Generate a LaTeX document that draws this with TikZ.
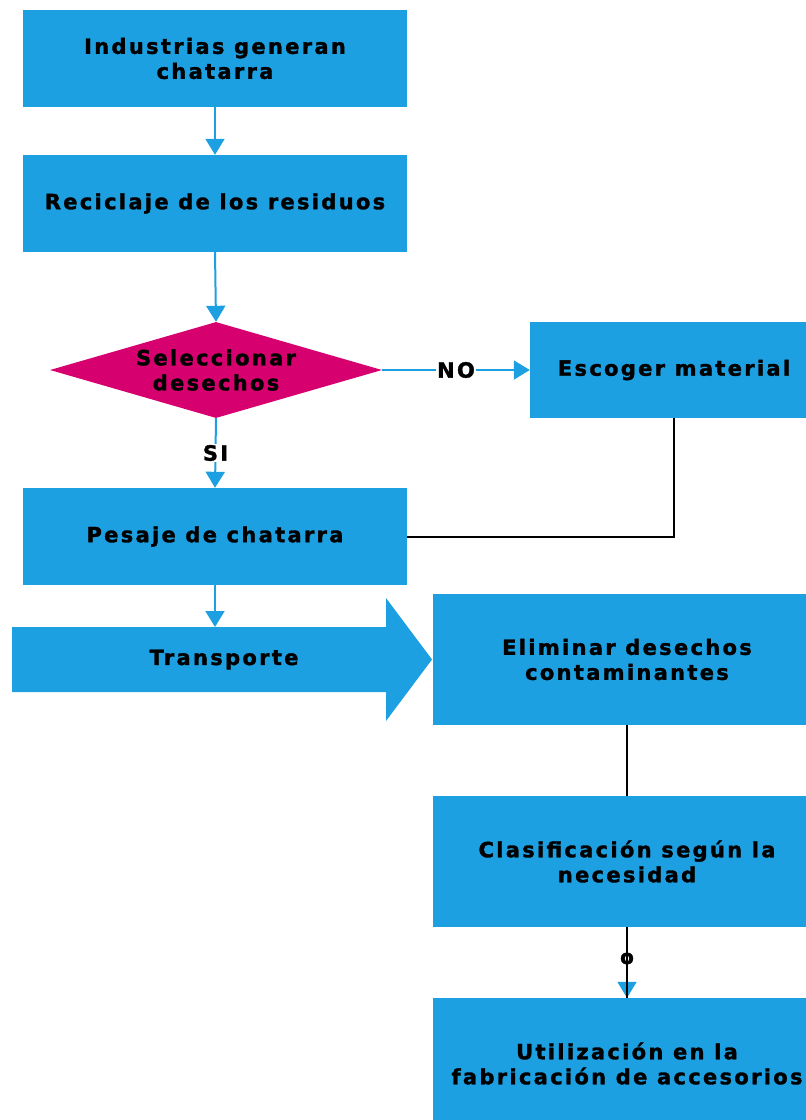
\documentclass[tikz,border=0pt]{standalone}
\usepackage{fontspec}
\setmainfont{DejaVu Sans}
\newfontfamily\lblfont{DejaVu Sans}[LetterSpace=11, BoldFeatures={FakeBold=1.5}]
\usetikzlibrary{shapes.geometric,arrows.meta}
\definecolor{boxblue}{RGB}{29,160,225}
\definecolor{decmag}{RGB}{214,0,111}
\tikzset{
  lbl/.style={font=\lblfont\bfseries\fontsize{21}{25}\selectfont, text=black, align=center},
  stepbox/.style={lbl, fill=boxblue, draw=none, inner sep=0pt,
    minimum width=384pt, minimum height=97pt},
  widebox/.style={stepbox, minimum width=388pt, minimum height=131pt},
  decision/.style={lbl, diamond, fill=decmag, draw=none, inner sep=0pt,
    aspect=3.4, minimum width=332pt, minimum height=96pt},
  flow/.style={draw=boxblue, line width=2pt, -{Triangle[width=19pt,length=16pt]}},
  plain/.style={draw=black, line width=2pt},
  tag/.style={lbl, fill=white, inner sep=1.5pt}
}
\begin{document}
\begin{tikzpicture}[x=1pt,y=-1pt]
\useasboundingbox (0,0) rectangle (806,1120);

% main column
\node[stepbox] (gen) at (215,58.5) {Industrias generan\\chatarra};
\node[stepbox] (rec) at (215,203.5) {Reciclaje de los residuos};
\node[decision] (sel) at (216,370) {Seleccionar\\desechos};
\node[stepbox, minimum width=288pt, minimum height=96pt] (esc) at (674,370) {Escoger material};
\node[stepbox] (pes) at (215,536.5) {Pesaje de chatarra};

% transport block arrow
\fill[boxblue] (12,627) -- (386,627) -- (386,598) -- (432,659.5)
  -- (386,721) -- (386,692) -- (12,692) -- cycle;
\node[lbl] (tra) at (224,659.5) {Transporte};
\coordinate (traTop) at (215,627);

% right column
\node[widebox] (eli) at (627,659.5) {Eliminar desechos\\contaminantes};
\node[widebox] (cla) at (627,861.5) {Clasificación según la\\necesidad};
\node[widebox] (uti) at (627,1063.5) {Utilización en la\\fabricación de accesorios};

% connectors
\draw[flow] (gen.south) -- (rec.north);
\draw[flow] (rec.south) -- (sel.north);
\draw[flow] (sel.east) -- node[tag] {NO} (esc.west);
\draw[flow] (sel.south) -- node[tag] {SI} (pes.north);
\draw[plain] (esc.south) |- (pes.east);
\draw[flow] (pes.south) -- (traTop);
\draw[plain] (eli.south) -- (cla.north);
\draw[flow] (cla.south) -- (uti.north);
\draw[plain] (cla.south) -- node[lbl, font=\lblfont\bfseries\fontsize{20}{20}\selectfont, inner sep=0pt, yshift=4pt] {o} (uti.north);
\end{tikzpicture}
\end{document}
